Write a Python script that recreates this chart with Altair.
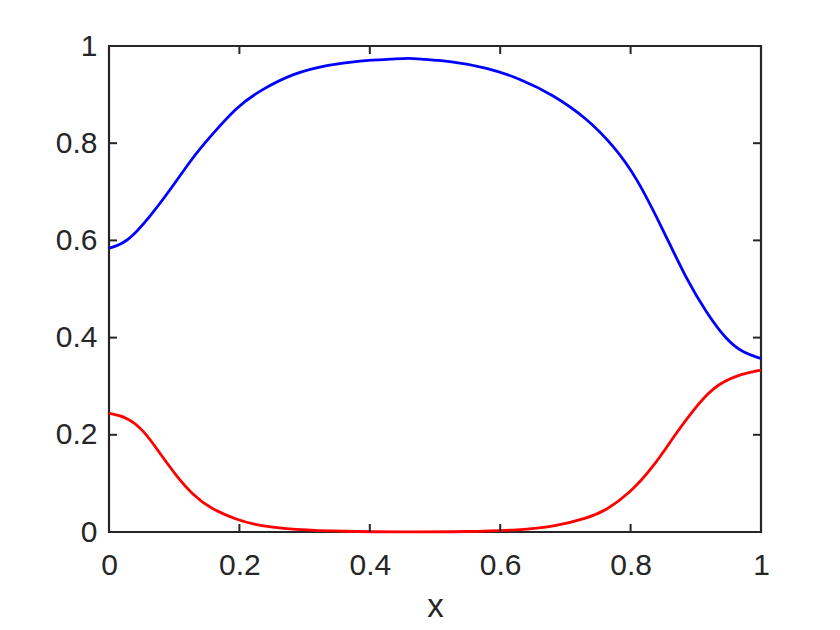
import altair as alt
import pandas as pd

# Blue curve
blue_x = [0.0, 0.027, 0.063, 0.094, 0.129, 0.155, 0.196, 0.232, 0.283, 0.334, 0.385, 0.436,
          0.46, 0.477, 0.528, 0.579, 0.630, 0.682, 0.733, 0.773, 0.809, 0.850, 0.886, 0.917,
          0.947, 0.973, 1.0]
blue_y = [0.584, 0.594, 0.649, 0.704, 0.772, 0.813, 0.875, 0.909, 0.944, 0.961, 0.970, 0.973,
          0.975, 0.973, 0.968, 0.956, 0.933, 0.899, 0.851, 0.796, 0.731, 0.621, 0.519, 0.450,
          0.395, 0.368, 0.357]

# Red curve
red_x = [0.0, 0.027, 0.053, 0.078, 0.104, 0.129, 0.155, 0.196, 0.232, 0.283, 0.36, 0.45,
         0.55, 0.63, 0.682, 0.733, 0.763, 0.799, 0.835, 0.866, 0.896, 0.927, 0.963, 1.0]
red_y = [0.244, 0.237, 0.210, 0.162, 0.114, 0.076, 0.049, 0.025, 0.012, 0.005, 0.001, 0.0,
         0.0005, 0.004, 0.011, 0.028, 0.045, 0.080, 0.134, 0.196, 0.251, 0.299, 0.323, 0.333]

x_ticks = [0, 0.2, 0.4, 0.6, 0.8, 1]
y_ticks = [0, 0.2, 0.4, 0.6, 0.8, 1]
series_names = ["blue", "red"]
series_colors = ["#0000FF", "#FF0000"]

df = pd.concat([
    pd.DataFrame({"x": blue_x, "y": blue_y, "s": "blue"}),
    pd.DataFrame({"x": red_x, "y": red_y, "s": "red"}),
])
xt = pd.DataFrame({"x": x_ticks})
yt = pd.DataFrame({"y": y_ticks})

W, H = 652, 486
AX = "#262626"
FONT = "Liberation Sans"
FS = 30
TICK = 8
TW = 2

xscale = alt.Scale(domain=[0, 1], nice=False)
yscale = alt.Scale(domain=[0, 1], nice=False)

color = alt.Color("s:N", scale=alt.Scale(domain=series_names, range=series_colors), legend=None)

lines = alt.Chart(df).mark_line(strokeWidth=2.8, interpolate="basis").encode(
    x=alt.X("x:Q", scale=xscale,
            axis=alt.Axis(values=x_ticks, grid=False, domain=False, ticks=False, tickSize=0,
                          labelPadding=18, labelFlush=False, format="~g",
                          labelColor=AX, labelFont=FONT, labelFontSize=FS,
                          title="x", titleFont=FONT, titleFontSize=33,
                          titleFontWeight="normal", titleColor=AX, titlePadding=10)),
    y=alt.Y("y:Q", scale=yscale,
            axis=alt.Axis(values=y_ticks, grid=False, domain=False, ticks=False, tickSize=0,
                          labelPadding=12, labelFlush=False, format="~g",
                          labelColor=AX, labelFont=FONT, labelFontSize=FS, title=None)),
    color=color,
    detail="s:N",
)

tick_style = dict(color=AX, strokeWidth=TW)
bottom_ticks = alt.Chart(xt).mark_rule(**tick_style).encode(
    x=alt.X("x:Q", scale=xscale), y=alt.value(H - TICK), y2=alt.value(H))
top_ticks = alt.Chart(xt).mark_rule(**tick_style).encode(
    x=alt.X("x:Q", scale=xscale), y=alt.value(0), y2=alt.value(TICK))
left_ticks = alt.Chart(yt).mark_rule(**tick_style).encode(
    y=alt.Y("y:Q", scale=yscale), x=alt.value(0), x2=alt.value(TICK))
right_ticks = alt.Chart(yt).mark_rule(**tick_style).encode(
    y=alt.Y("y:Q", scale=yscale), x=alt.value(W - TICK), x2=alt.value(W))

chart = alt.layer(lines, bottom_ticks, top_ticks, left_ticks, right_ticks).properties(
    width=W, height=H,
    autosize=alt.AutoSizeParams(type="none"),
    padding={"left": 101, "top": 38, "right": 71, "bottom": 90},
    background="white",
).configure_view(stroke=AX, strokeWidth=2.2)

chart.save("out.html", embed_options={"renderer": "svg", "actions": False})
